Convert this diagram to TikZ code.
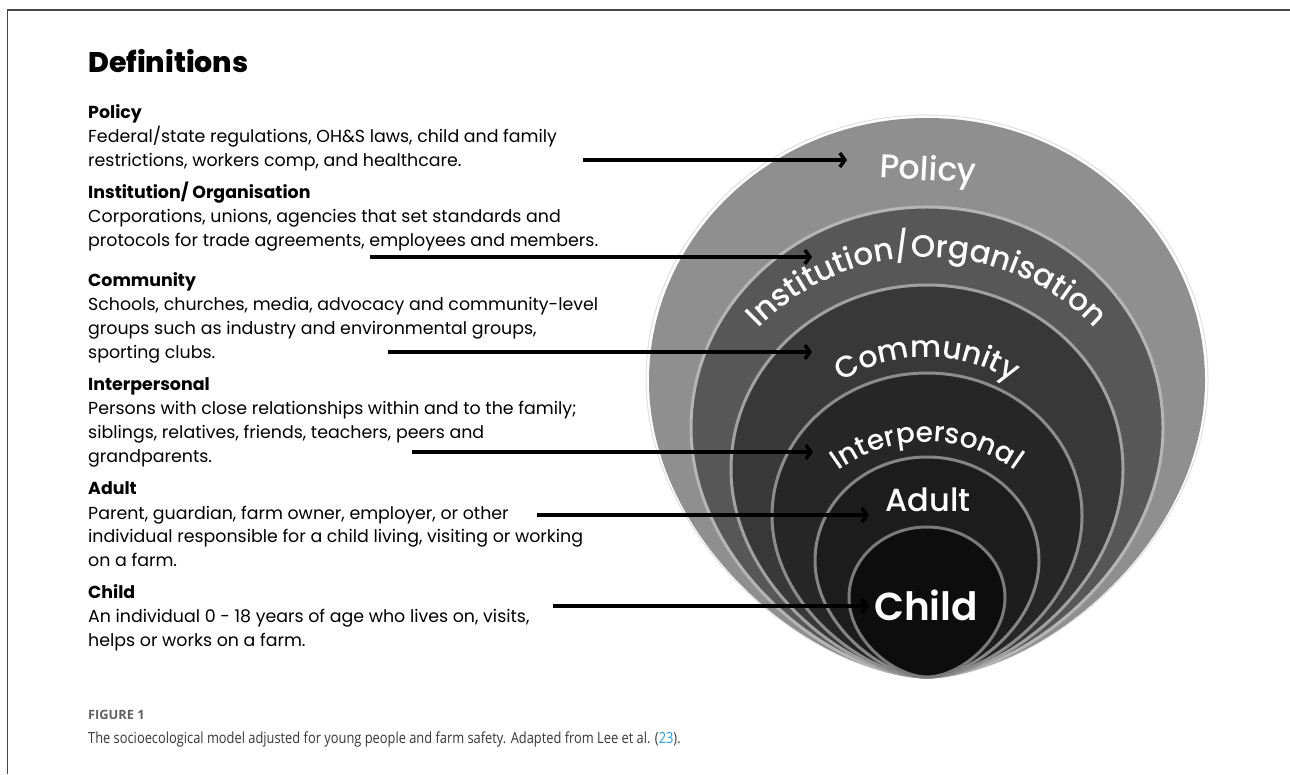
\documentclass[tikz,border=0pt]{standalone}
\usepackage{fontspec}
\setmainfont{Poppins}
\newfontfamily\heavyfont{Poppins ExtraBold}
\newfontfamily\ringfont{Poppins Medium}
\newfontfamily\childfont{Poppins SemiBold}
\newfontfamily\capfont{Open Sans}
\newfontfamily\capnarrow{Open Sans}[FakeStretch=0.84]
\usetikzlibrary{arrows.meta,decorations.text}
\definecolor{linkblue}{HTML}{2A9CD6}
% egg shaped ring, all of them meet at the tip (927,97)
\def\ring[#1](#2:#3){%
	\pgfmathsetmacro\ymid{#2-0.47*(#2-97)}%
	\pgfmathsetmacro\ylow{\ymid-0.55*(\ymid-97)}%
	\pgfmathsetmacro\yhigh{\ymid+0.5523*(#2-\ymid)}%
	\draw[#1] (927,97) .. controls (927-0.4*#3,97) and (927-#3,\ylow) .. (927-#3,\ymid)
		.. controls (927-#3,\yhigh) and (927-0.5523*#3,#2) .. (927,#2)
		.. controls (927+0.5523*#3,#2) and (927+#3,\yhigh) .. (927+#3,\ymid)
		.. controls (927+#3,\ylow) and (927+0.4*#3,97) .. cycle;}
% white label bent over an arc centred at (927,#1)
\def\arclabel(#1:#2)[#3]#4{%
	\path[decorate, decoration={text along path, text color=white, text align=center,
		text={|\ringfont\fontsize{#3}{#3}\selectfont|#4}}]
		(927,#1) ++(165:#2) arc[start angle=165, end angle=15, radius=#2];}

\begin{document}
\begin{tikzpicture}[x=1pt, y=1pt,
	defblock/.style={anchor=base west, inner sep=0pt, align=left, font=\fontsize{17.4}{24}\selectfont},
	pointer/.style={line width=3.5pt, -{Straight Barb[length=5pt,width=14pt]}},
	ringtext/.style={text=white, inner sep=0pt}]
			%%%%% FRAME %%%%%
			\fill[white] (0,0) rectangle (1290,774);
			\useasboundingbox (0,0) rectangle (1290,774);
			\draw[line width=1.6pt, color=black!72] (7.5,0) -- (7.5,764) -- (1290,764);
			
			%%%%% RINGS %%%%%
			\ring[draw=black!12, line width=1pt](659:281);
			\ring[fill=black!44, draw=none](656:278);
			\ring[fill=black!66, draw=black!29, line width=3pt](567:236);
			\ring[fill=black!78, draw=black!37, line width=3pt](489:196);
			\ring[fill=black!85, draw=black!45, line width=3pt](401:155);
			\ring[fill=black!89, draw=black!48, line width=3pt](317:112);
			\ring[fill=black!95, draw=black!52, line width=3pt](247:78);
			
			\node[ringtext, rotate=-3, font=\ringfont\fontsize{33}{33}\selectfont] (l-policy) at (928,602) {Policy};
			\arclabel(284:233)[31]{Institution/Organisation}
			\arclabel(259:158)[30]{Community}
			\arclabel(183:149)[28]{Interpersonal}
			\node[ringtext, font=\ringfont\fontsize{32}{32}\selectfont] (l-adult) at (928,274) {Adult};
			\node[ringtext, font=\childfont\fontsize{39}{39}\selectfont] (l-child) at (926,169) {Child};
			
			%%%%% DEFINITIONS %%%%%
			% the blocks are pinned at the baseline of their last line
			\node[anchor=base west, inner sep=0pt, font=\heavyfont\fontsize{28.4}{28}\selectfont] (title) at (88,701) {Definitions};
			
			\node[defblock] (d-policy) at (88,607) {{\bfseries Policy}\\
				Federal/state regulations, OH\&S laws, child and family\\
				restrictions, workers comp, and healthcare.};
			\node[defblock] (d-inst) at (88,527) {{\bfseries Institution/ Organisation}\\
				Corporations, unions, agencies that set standards and\\
				protocols for trade agreements, employees and members.};
			\node[defblock] (d-comm) at (88,415) {{\bfseries Community}\\
				Schools, churches, media, advocacy and community-level\\
				groups such as industry and environmental groups,\\
				sporting clubs.};
			\node[defblock] (d-inter) at (88,311) {{\bfseries Interpersonal}\\
				Persons with close relationships within and to the family;\\
				siblings, relatives, friends, teachers, peers and\\
				grandparents.};
			\node[defblock] (d-adult) at (88,207) {{\bfseries Adult}\\
				Parent, guardian, farm owner, employer, or other\\
				individual responsible for a child living, visiting or working\\
				on a farm.};
			\node[defblock] (d-child) at (88,128) {{\bfseries Child}\\
				An individual 0 - 18 years of age who lives on, visits,\\
				helps or works on a farm.};
			
			%%%%% ARROWS %%%%%
			\coordinate (a-policy) at (583,614);  \coordinate (b-policy) at (847,614);
			\coordinate (a-inst) at (370,517);    \coordinate (b-inst) at (812,517);
			\coordinate (a-comm) at (388,422);    \coordinate (b-comm) at (812,422);
			\coordinate (a-inter) at (412,322);   \coordinate (b-inter) at (813,322);
			\coordinate (a-adult) at (537,259);   \coordinate (b-adult) at (869,259);
			\coordinate (a-child) at (553,168);   \coordinate (b-child) at (869,168);
			\foreach \k in {policy,inst,comm,inter,adult,child}
				\draw[pointer] (a-\k) -- (b-\k);
			
			%%%%% CAPTION %%%%%
			\node[anchor=base west, inner sep=0pt, text=black!62, font=\capfont\bfseries\fontsize{12.8}{12}\selectfont] (fig-no) at (88,55) {FIGURE 1};
			\node[anchor=base west, inner sep=0pt, text=black!78, font=\capnarrow\fontsize{15.3}{16}\selectfont] (fig-cap) at (88,31) {The socioecological model adjusted for young people and farm safety. Adapted from Lee et al. ({\color{linkblue}23}).};
\end{tikzpicture}
\end{document}
